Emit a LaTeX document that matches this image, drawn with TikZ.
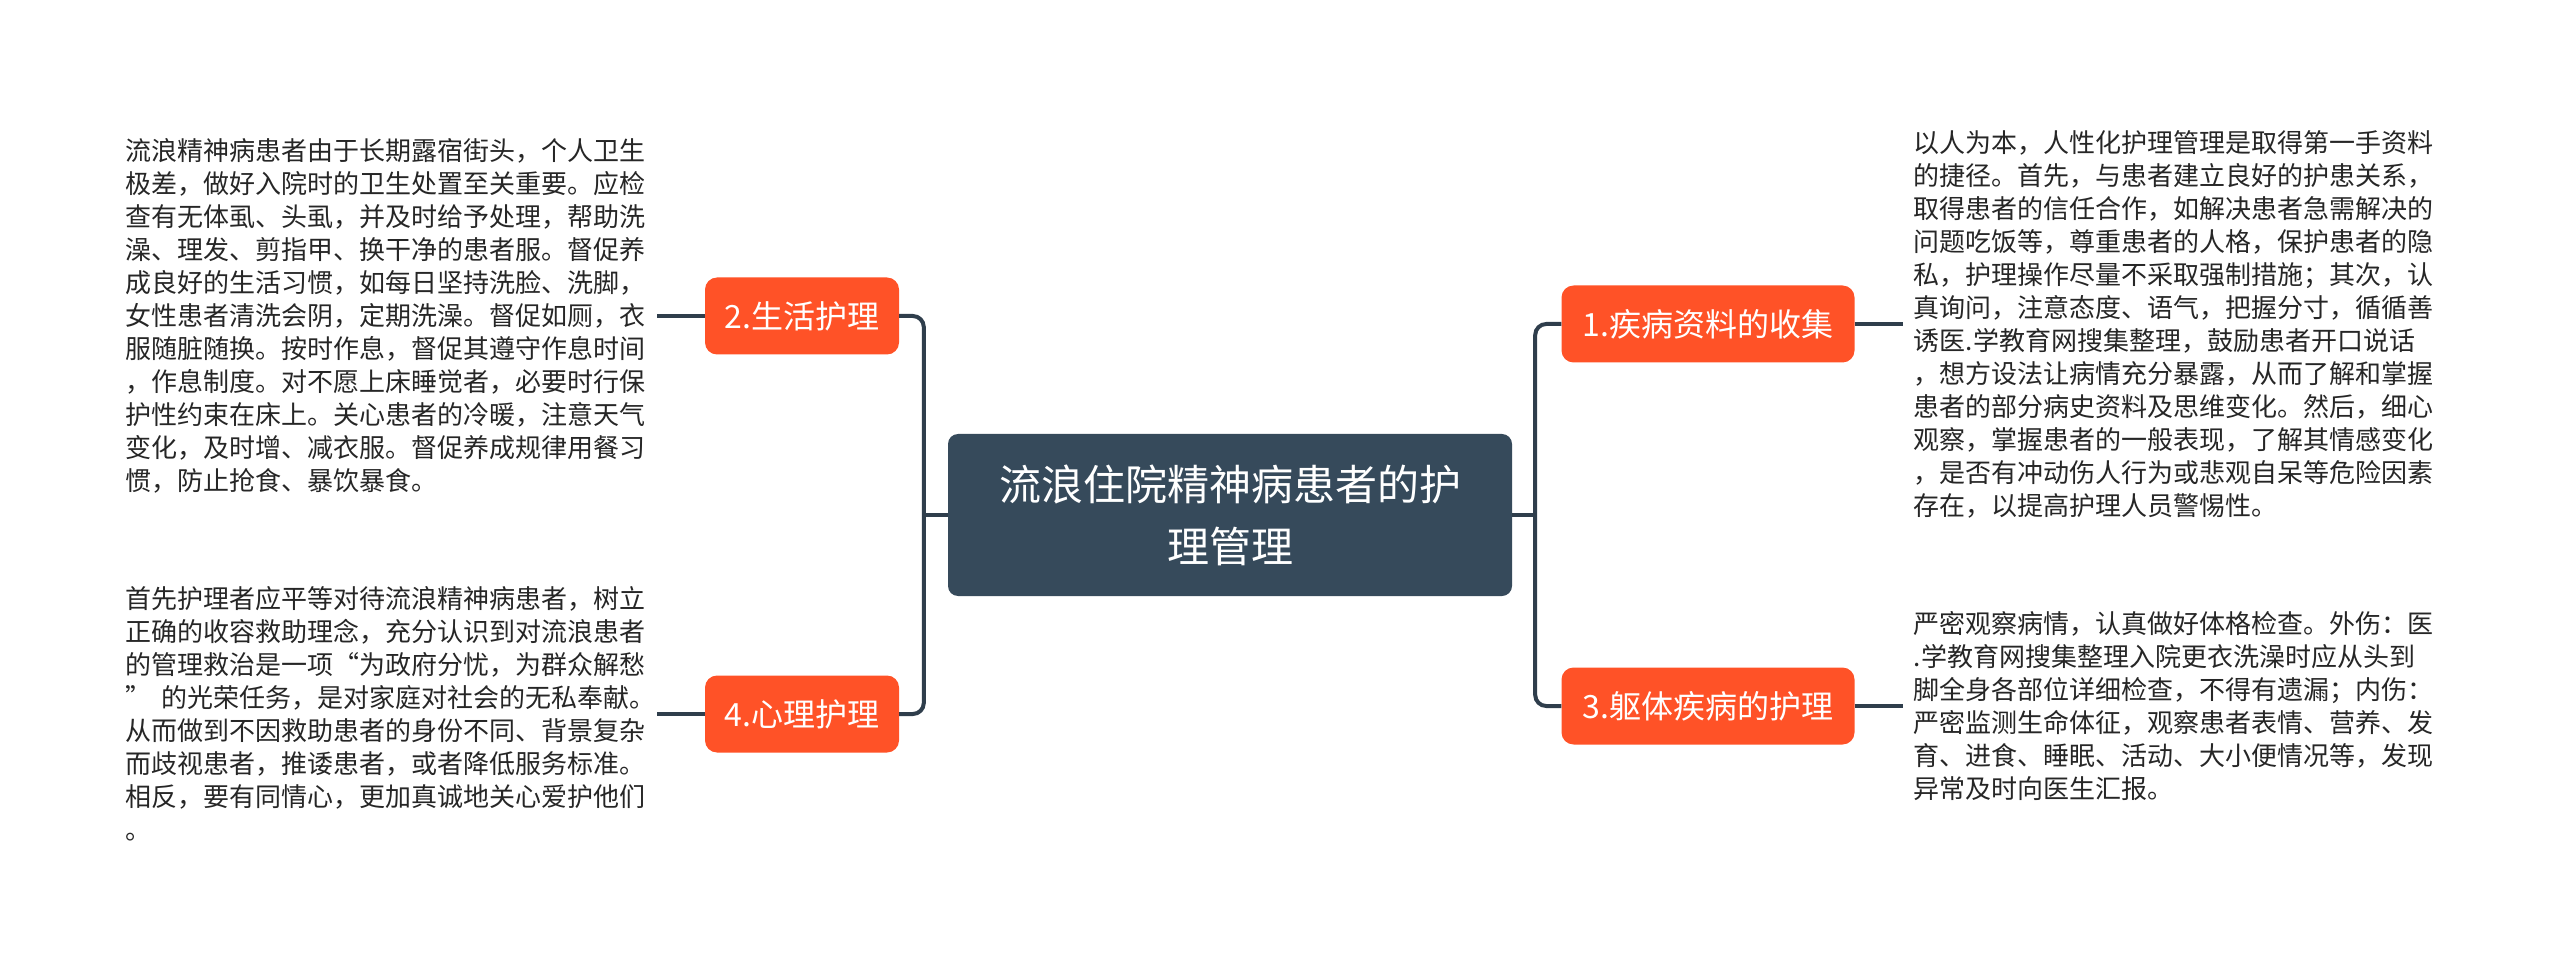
\documentclass[tikz,border=0pt]{standalone}
\usepackage{fontspec}
\setmainfont{Noto Sans CJK SC}
\usepackage{xcolor}
\usetikzlibrary{positioning}
\definecolor{topicdark}{HTML}{364A5B}
\definecolor{branchred}{HTML}{FF5227}
\definecolor{linkdark}{HTML}{2F3E4C}
\definecolor{notetext}{HTML}{262626}
\tikzset{
    % Node styles
    root node/.style={rectangle, rounded corners=10pt, fill=topicdark, text=white,
                      minimum width=564pt, minimum height=162pt, align=center,
                      font=\fontsize{42}{62}\selectfont},
    branch node/.style={rectangle, rounded corners=12pt, fill=branchred, text=white,
                        minimum height=77pt, inner xsep=17pt,
                        font=\fontsize{32}{38}\selectfont},
    note/.style={text width=520pt, align=left, inner xsep=11pt, inner ysep=0pt,
                 text=notetext, font=\fontsize{26}{33}\selectfont},
    % Connector styles
    link/.style={draw=linkdark, line width=4pt, rounded corners=11pt},
}

\begin{document}
\begin{tikzpicture}[x=1pt, y=-1pt, node distance=48pt]
    \useasboundingbox (0,0) rectangle (2560,973);

    % Root topic
    \node[root node] (root) at (1230, 515) {流浪住院精神病患者的护\\理管理};

    % Branches
    \node[branch node, minimum width=194pt] (care2) at (802, 316) {2.生活护理};
    \node[branch node, minimum width=194pt] (care4) at (802, 714) {4.心理护理};
    \node[branch node, minimum width=293pt] (care1) at (1708, 324) {1.疾病资料的收集};
    \node[branch node, minimum width=293pt] (care3) at (1708, 706) {3.躯体疾病的护理};

    % Notes
    \node[note, left=of care2] (note2) {流浪精神病患者由于长期露宿街头，个人卫生\\
极差，做好入院时的卫生处置至关重要。应检\\
查有无体虱、头虱，并及时给予处理，帮助洗\\
澡、理发、剪指甲、换干净的患者服。督促养\\
成良好的生活习惯，如每日坚持洗脸、洗脚，\\
女性患者清洗会阴，定期洗澡。督促如厕，衣\\
服随脏随换。按时作息，督促其遵守作息时间\\
，作息制度。对不愿上床睡觉者，必要时行保\\
护性约束在床上。关心患者的冷暖，注意天气\\
变化，及时增、减衣服。督促养成规律用餐习\\
惯，防止抢食、暴饮暴食。};
    \node[note, left=of care4] (note4) {首先护理者应平等对待流浪精神病患者，树立\\
正确的收容救助理念，充分认识到对流浪患者\\
的管理救治是一项“为政府分忧，为群众解愁\\
”\kern10pt 的光荣任务，是对家庭对社会的无私奉献。\\
从而做到不因救助患者的身份不同、背景复杂\\
而歧视患者，推诿患者，或者降低服务标准。\\
相反，要有同情心，更加真诚地关心爱护他们\\
。};
    \node[note, right=of care1] (note1) {以人为本，人性化护理管理是取得第一手资料\\
的捷径。首先，与患者建立良好的护患关系，\\
取得患者的信任合作，如解决患者急需解决的\\
问题吃饭等，尊重患者的人格，保护患者的隐\\
私，护理操作尽量不采取强制措施；其次，认\\
真询问，注意态度、语气，把握分寸，循循善\\
诱医.学教育网搜集整理，鼓励患者开口说话\\
，想方设法让病情充分暴露，从而了解和掌握\\
患者的部分病史资料及思维变化。然后，细心\\
观察，掌握患者的一般表现，了解其情感变化\\
，是否有冲动伤人行为或悲观自呆等危险因素\\
存在，以提高护理人员警惕性。};
    \node[note, right=of care3] (note3) {严密观察病情，认真做好体格检查。外伤：医\\
.学教育网搜集整理入院更衣洗澡时应从头到\\
脚全身各部位详细检查，不得有遗漏；内伤：\\
严密监测生命体征，观察患者表情、营养、发\\
育、进食、睡眠、活动、大小便情况等，发现\\
异常及时向医生汇报。};

    % Links
    \coordinate (leftjoin) at ([xshift=-24pt]root.west);
    \coordinate (rightjoin) at ([xshift=23pt]root.east);
    \draw[link] (root.west) -- (leftjoin);
    \draw[link] (care2.east) -| (leftjoin) |- (care4.east);
    \draw[link] (root.east) -- (rightjoin);
    \draw[link] (care1.west) -| (rightjoin) |- (care3.west);
    \foreach \b/\n in {care2/note2, care4/note4, care1/note1, care3/note3} {
        \draw[link] (\b) -- (\n);
    }
\end{tikzpicture}
\end{document}
